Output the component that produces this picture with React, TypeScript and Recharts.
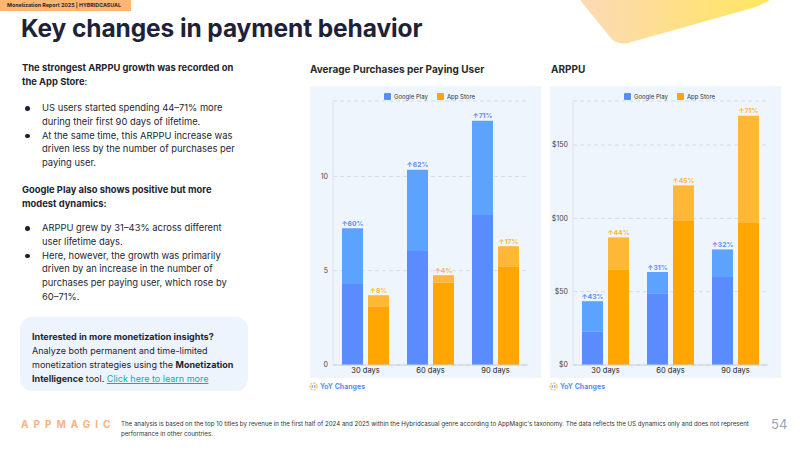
import React from "react";
import {
  BarChart,
  Bar,
  XAxis,
  YAxis,
  CartesianGrid,
  Legend,
  LabelList
} from "recharts";

const categories = ["30 days", "60 days", "90 days"];

// Average purchases per paying user (dark = 2024 level, light = 2025 total)
const purchasesGp2024 = [4.3, 6.05, 7.95];
const purchasesGp2025 = [7.25, 10.35, 12.95];
const purchasesAs2024 = [3.12, 4.37, 5.2];
const purchasesAs2025 = [3.7, 4.76, 6.3];
const purchasesGpYoy = [60, 62, 71];
const purchasesAsYoy = [8, 4, 17];
const purchasesTicks = [0, 5, 10];

// ARPPU, USD
const arppuGp2024 = [22.6, 48.9, 60];
const arppuGp2025 = [43.5, 63.4, 78.8];
const arppuAs2024 = [64.8, 98.7, 97.4];
const arppuAs2025 = [87, 122.5, 170];
const arppuGpYoy = [43, 31, 32];
const arppuAsYoy = [44, 45, 71];
const arppuTicks = [0, 50, 100, 150];

const FONT = "Inter, 'Noto Sans', sans-serif";
const BLUE = "#5b8cff";
const BLUE_LIGHT = "#5ca2ff";
const ORANGE = "#ffa600";
const ORANGE_LIGHT = "#ffb835";
const INK = "#1d1f33";

function buildRows(gp24: number[], gp25: number[], as24: number[], as25: number[], gpYoy: number[], asYoy: number[]) {
  return categories.map((name, i) => ({
    name,
    gpBase: gp24[i],
    gpGrowth: +(gp25[i] - gp24[i]).toFixed(2),
    asBase: as24[i],
    asGrowth: +(as25[i] - as24[i]).toFixed(2),
    gpYoy: gpYoy[i],
    asYoy: asYoy[i]
  }));
}

const purchasesRows = buildRows(purchasesGp2024, purchasesGp2025, purchasesAs2024, purchasesAs2025, purchasesGpYoy, purchasesAsYoy);
const arppuRows = buildRows(arppuGp2024, arppuGp2025, arppuAs2024, arppuAs2025, arppuGpYoy, arppuAsYoy);

function LegendBox() {
  const item = (color: string, label: string) => (
    <div style={{ display: "flex", alignItems: "center", marginRight: 9 }}>
      <span style={{ width: 7, height: 7, background: color, borderRadius: 1, marginRight: 3 }} />
      <span style={{ fontSize: 6, color: "#333" }}>{label}</span>
    </div>
  );
  return (
    <div style={{ display: "flex", justifyContent: "center", alignItems: "center", height: 10, paddingLeft: 17, fontFamily: FONT }}>
      {item(BLUE, "Google Play")}
      {item(ORANGE, "App Store")}
    </div>
  );
}

type ChartProps = {
  rows: ReturnType<typeof buildRows>;
  max: number;
  ticks: number[];
  money?: boolean;
};

function PanelChart({ rows, max, ticks, money }: ChartProps) {
  const labelStyle = { fontSize: 6.8, fontWeight: 700, fontFamily: FONT };
  return (
    <BarChart
      width={231}
      height={292}
      data={rows}
      margin={{ top: 5, right: 13, left: 0, bottom: 0 }}
      barGap={5}
    >
      <CartesianGrid vertical={false} strokeDasharray="4 3" stroke="#d5dbe5" />
      <XAxis
        dataKey="name"
        axisLine={{ stroke: "#c9d0dc" }}
        tickLine={false}
        tickSize={0}
        tickMargin={3}
        height={13}
        tick={{ fontSize: 7.5, fill: "#222", fontFamily: FONT }}
      />
      <YAxis
        domain={[0, max]}
        ticks={ticks}
        width={23}
        axisLine={{ stroke: "#dde2ea" }}
        tickLine={false}
        tickSize={0}
        tickMargin={5}
        tick={{ fontSize: 7, fill: "#444", fontFamily: FONT }}
        tickFormatter={(v: number) => (money ? `$${v}` : `${v}`)}
      />
      <Legend verticalAlign="top" height={10} wrapperStyle={{ top: 5, left: 0, width: 231, height: 10 }} content={() => <LegendBox />} />
      <Bar dataKey="gpBase" stackId="gp" fill={BLUE} barSize={21} isAnimationActive={false} />
      <Bar dataKey="gpGrowth" stackId="gp" fill={BLUE_LIGHT} barSize={21} isAnimationActive={false}>
        <LabelList dataKey="gpYoy" position="top" offset={2.5} fill={BLUE} style={labelStyle} formatter={(v: any) => `↑${v}%`} />
      </Bar>
      <Bar dataKey="asBase" stackId="as" fill={ORANGE} barSize={21} isAnimationActive={false} />
      <Bar dataKey="asGrowth" stackId="as" fill={ORANGE_LIGHT} barSize={21} isAnimationActive={false}>
        <LabelList dataKey="asYoy" position="top" offset={2.5} fill={ORANGE_LIGHT} style={labelStyle} formatter={(v: any) => `↑${v}%`} />
      </Bar>
    </BarChart>
  );
}

function YoyNote({ left }: { left: number }) {
  return (
    <div style={{ position: "absolute", left, top: 382, display: "flex", alignItems: "center", fontFamily: FONT }}>
      <svg width="9" height="9" viewBox="0 0 9 9" style={{ marginRight: 2 }}>
        <circle cx="4.5" cy="4.5" r="3.5" fill="none" stroke="#ffb02e" strokeWidth="1.1" strokeDasharray="2 1.2" />
        <path d="M3.2 5.8 V3 M5.8 3.2 V6" stroke={BLUE} strokeWidth="0.9" />
      </svg>
      <span style={{ fontSize: 7, fontWeight: 700, color: BLUE }}>YoY Changes</span>
    </div>
  );
}

const lineH = 13.8;
const textBase: React.CSSProperties = { position: "absolute", left: 22, fontSize: 9.4, lineHeight: `${lineH}px`, color: INK, whiteSpace: "nowrap" };

function Bullets({ top, items }: { top: number; items: string[][] }) {
  let row = 0;
  return (
    <div style={{ ...textBase, top }}>
      {items.map((lines, i) => {
        const start = row;
        row += lines.length;
        return (
          <div key={i} style={{ position: "absolute", top: start * lineH, left: 0 }}>
            <span style={{ position: "absolute", left: 3, top: 5, width: 4.5, height: 4.5, borderRadius: 3, background: INK }} />
            <div style={{ marginLeft: 20 }}>
              {lines.map((l, j) => (
                <div key={j}>{l}</div>
              ))}
            </div>
          </div>
        );
      })}
    </div>
  );
}

export default function App() {
  return (
    <div style={{ position: "absolute", left: 0, top: 0, width: 800, height: 450, overflow: "hidden", background: "#fff", fontFamily: FONT }}>
      {/* header tag */}
      <div style={{ position: "absolute", left: 0, top: 0, width: 131, height: 11, background: "#ffb672" }} />
      <div style={{ position: "absolute", left: 7, top: 2, fontSize: 5.3, fontWeight: 700, color: "#2a2a2a", lineHeight: "7px", whiteSpace: "nowrap" }}>
        Monetization Report 2025 | HYBRIDCASUAL
      </div>
      {/* decorative corner */}
      <svg width="230" height="50" style={{ position: "absolute", left: 572, top: 0 }}>
        <defs>
          <linearGradient id="corner" x1="0" x2="1" y1="0" y2="0">
            <stop offset="0" stopColor="#fdd9b8" />
            <stop offset="1" stopColor="#ffe75c" />
          </linearGradient>
        </defs>
        <path d="M8 0 L38 37 Q44 45 56 43 L184 7 Q193 3 198 0 Z" fill="url(#corner)" />
      </svg>

      <div style={{ position: "absolute", left: 21, top: 13, fontSize: 24.5, fontWeight: 700, color: "#1e2238", whiteSpace: "nowrap", letterSpacing: -0.1 }}>
        Key changes in payment behavior
      </div>

      {/* left text */}
      <div style={{ ...textBase, top: 61, fontWeight: 700 }}>
        <div>The strongest ARPPU growth was recorded on</div>
        <div>the App Store<span style={{ fontWeight: 400 }}>:</span></div>
      </div>
      <Bullets
        top={101}
        items={[
          ["US users started spending 44–71% more", "during their first 90 days of lifetime."],
          ["At the same time, this ARPPU increase was", "driven less by the number of purchases per", "paying user."]
        ]}
      />
      <div style={{ ...textBase, top: 183, fontWeight: 700 }}>
        <div>Google Play also shows positive but more</div>
        <div>modest dynamics:</div>
      </div>
      <Bullets
        top={221}
        items={[
          ["ARPPU grew by 31–43% across different", "user lifetime days."],
          ["Here, however, the growth was primarily", "driven by an increase in the number of", "purchases per paying user, which rose by", "60–71%."]
        ]}
      />

      {/* call to action */}
      <div style={{ position: "absolute", left: 20, top: 317, width: 228, height: 74, borderRadius: 12, background: "#edf4fd" }} />
      <div style={{ position: "absolute", left: 32, top: 330, fontSize: 9, lineHeight: "14px", color: INK, whiteSpace: "nowrap" }}>
        <div style={{ fontWeight: 700 }}>Interested in more monetization insights?</div>
        <div>Analyze both permanent and time-limited</div>
        <div>
          monetization strategies using the <b>Monetization</b>
        </div>
        <div>
          <b>Intelligence</b> tool. <span style={{ color: "#1aa5b8", textDecoration: "underline" }}>Click here to learn more</span>
        </div>
      </div>

      {/* charts */}
      <div style={{ position: "absolute", left: 310, top: 63, fontSize: 10, fontWeight: 700, color: "#2b2b2b", whiteSpace: "nowrap" }}>
        Average Purchases per Paying User
      </div>
      <div style={{ position: "absolute", left: 551, top: 63, fontSize: 10, fontWeight: 700, color: "#2b2b2b" }}>ARPPU</div>

      <div style={{ position: "absolute", left: 310, top: 86, width: 231, height: 292, background: "#eff5fd" }}>
        <PanelChart rows={purchasesRows} max={14} ticks={purchasesTicks} />
      </div>
      <div style={{ position: "absolute", left: 550, top: 86, width: 231, height: 292, background: "#eff5fd" }}>
        <PanelChart rows={arppuRows} max={180} ticks={arppuTicks} money />
      </div>
      <YoyNote left={309} />
      <YoyNote left={549} />

      {/* footer */}
      <div style={{ position: "absolute", left: 21, top: 418, fontSize: 10, fontWeight: 700, color: "#f6b27e", letterSpacing: 5, whiteSpace: "nowrap" }}>
        APPMAGIC
      </div>
      <div style={{ position: "absolute", left: 121, top: 419, fontSize: 6.15, lineHeight: "9.5px", color: "#333", whiteSpace: "nowrap" }}>
        <div>
          The analysis is based on the top 10 titles by revenue in the first half of 2024 and 2025 within the Hybridcasual genre according to AppMagic's taxonomy. The data reflects the US dynamics only and does not represent
        </div>
        <div>performance in other countries.</div>
      </div>
      <div style={{ position: "absolute", left: 771, top: 416, fontSize: 13, color: "#9aa3b6" }}>54</div>
    </div>
  );
}
